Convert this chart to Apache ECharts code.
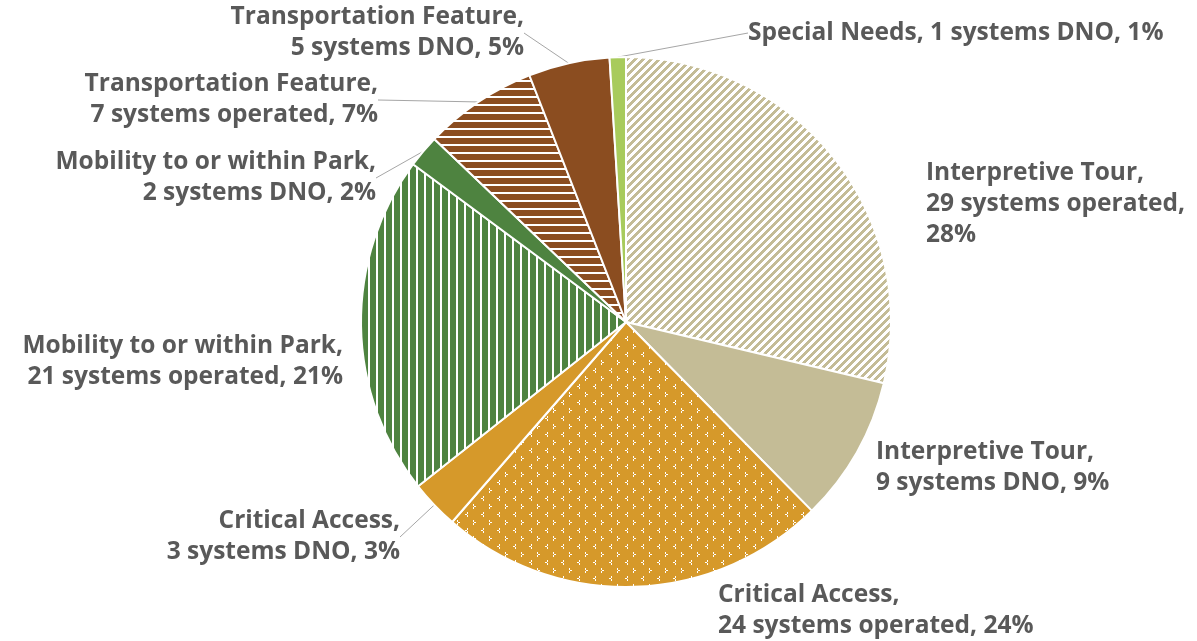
<!DOCTYPE html>
<html>
<head>
<meta charset="utf-8">
<script src="https://cdn.jsdelivr.net/npm/echarts@6/dist/echarts.min.js"></script>
<style>
html,body{margin:0;padding:0;background:#fff;}
#chart{width:1197px;height:641px;}
</style>
</head>
<body>
<div id="chart"></div>
<script>
// ---- data ----
var categories = [
  'Interpretive Tour', 'Interpretive Tour',
  'Critical Access', 'Critical Access',
  'Mobility to or within Park', 'Mobility to or within Park',
  'Transportation Feature', 'Transportation Feature',
  'Special Needs'
];
var statuses = ['operated', 'DNO', 'operated', 'DNO', 'operated', 'DNO', 'operated', 'DNO', 'DNO'];
var systemCounts = [29, 9, 24, 3, 21, 2, 7, 5, 1];
var percentLabels = [28, 9, 24, 3, 21, 2, 7, 5, 1];

// ---- styling / layout ----
var COL_TAN = '#C4BC96', COL_GOLD = '#D6992A', COL_GREEN = '#4E8340', COL_BROWN = '#8B4D20', COL_LIME = '#A8CB5C';

function makeTile(w, h, bg, painter) {
  var c = document.createElement('canvas');
  c.width = w; c.height = h;
  var ctx = c.getContext('2d');
  ctx.fillStyle = bg; ctx.fillRect(0, 0, w, h);
  ctx.fillStyle = '#ffffff';
  painter(ctx, w, h);
  return { image: c, repeat: 'repeat' };
}
var diagTan = makeTile(8, 8, COL_TAN, function (ctx) {
  for (var x = 0; x < 8; x++) for (var y = 0; y < 8; y++) {
    if ((x + y) % 8 < 4) ctx.fillRect(x, y, 1, 1);
  }
});
var vertGreen = makeTile(8, 8, COL_GREEN, function (ctx) { ctx.fillRect(0, 0, 2, 8); });
var horizBrown = makeTile(8, 8, COL_BROWN, function (ctx) { ctx.fillRect(0, 0, 8, 2); });
var dotGold = makeTile(16, 16, COL_GOLD, function (ctx) {
  // "<" mark
  ctx.fillRect(3, 0, 1, 2); ctx.fillRect(1, 2, 2, 1); ctx.fillRect(3, 3, 1, 2);
  // ">" mark
  ctx.fillRect(9, 8, 1, 2); ctx.fillRect(10, 10, 2, 1); ctx.fillRect(9, 11, 1, 2);
});
var fills = [diagTan, COL_TAN, dotGold, COL_GOLD, vertGreen, COL_GREEN, horizBrown, COL_BROWN, COL_LIME];
var showLine = [false, false, false, true, false, true, true, true, true];
var labelPlace = [
  { x: 926, y: 204, align: 'left' },
  { x: 876, y: 468, align: 'left' },
  { x: 718, y: 611, align: 'left' },
  { x: 400, y: 537, align: 'right' },
  { x: 343, y: 362, align: 'right' },
  { x: 376, y: 178, align: 'right' },
  { x: 378, y: 100, align: 'right' },
  { x: 524, y: 33, align: 'right' },
  { x: 748, y: 33, align: 'left' }
];

function labelText(i) {
  var a = categories[i] + ',';
  var b = systemCounts[i] + ' systems ' + statuses[i] + ',';
  var p = percentLabels[i] + '%';
  if (i === 8) return a + ' ' + b + ' ' + p;
  if (i === 0) return a + '\n' + b + '\n' + p;
  return a + '\n' + b + ' ' + p;
}

var data = systemCounts.map(function (v, i) {
  return {
    value: v,
    name: categories[i] + ' ' + statuses[i],
    itemStyle: { color: fills[i] },
    labelLine: { show: showLine[i] }
  };
});

var chart = echarts.init(document.getElementById('chart'), null, { renderer: 'canvas' });
chart.setOption({
  backgroundColor: '#ffffff',
  animation: false,
  series: [{
    type: 'pie',
    center: [626, 322],
    radius: 265,
    startAngle: 90,
    clockwise: true,
    avoidLabelOverlap: false,
    itemStyle: { borderColor: '#ffffff', borderWidth: 2 },
    label: {
      show: true,
      position: 'outside',
      formatter: function (p) { return labelText(p.dataIndex); },
      fontFamily: 'Open Sans',
      fontWeight: 'bold',
      fontSize: 24.5,
      lineHeight: 31,
      color: '#595959'
    },
    labelLine: {
      show: true,
      smooth: false,
      length: 10,
      length2: 0,
      lineStyle: { color: '#A6A6A6', width: 1 }
    },
    labelLayout: function (params) {
      var lp = labelPlace[params.dataIndex];
      return { x: lp.x, y: lp.y, align: lp.align, verticalAlign: 'middle' };
    },
    emphasis: { disabled: true },
    data: data
  }]
});
</script>
</body>
</html>
